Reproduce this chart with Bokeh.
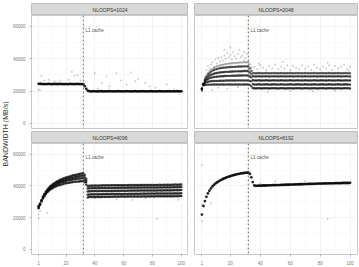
from math import pi
from bokeh.plotting import figure
from bokeh.layouts import row, column
from bokeh.models import Range1d, FixedTicker, Span, Label
from bokeh.embed import file_html
from bokeh.resources import INLINE


def kb(s):
    """values written in thousands of MB/s"""
    return [float(v) * 1000 for v in s.split()]


# ---------------- data ----------------
array_sizes = list(range(1, 101))      # KB, every size measured
sizes_pre = list(range(1, 35))         # up to / across the L1 boundary
sizes_post = list(range(35, 101))      # beyond L1
l1_cache_kb = 32
y_ticks = [0, 20000, 40000, 60000]
x_ticks = [1, 20, 40, 60, 80, 100]
panel_names = ["NLOOPS=1024", "NLOOPS=2048", "NLOOPS=4096", "NLOOPS=8192"]

bw_1024 = kb("""
24.5 24.4 24.4 24.3 24.3 24.3 24.3 24.4 24.3 24.3
24.3 24.4 24.3 24.3 24.3 24.4 24.3 24.3 24.3 24.3
24.3 24.3 24.4 24.3 24.3 24.3 24.3 24.4 24.3 24.3
24.3 24.2 23.0 21.4 20.3 19.9 19.8 19.8 19.9 19.8
19.8 19.8 19.8 19.9 19.8 19.8 19.8 19.8 19.8 19.9
19.8 19.8 19.8 19.8 19.8 19.9 19.8 19.8 19.8 19.8
19.8 19.9 19.8 19.8 19.8 19.8 19.8 19.9 19.8 19.8
19.8 19.8 19.9 19.8 19.8 19.8 19.8 19.8 19.9 19.8
19.8 19.8 19.8 19.8 19.9 19.8 19.8 19.8 19.8 19.8
19.9 19.8 19.8 19.8 19.8 19.8 19.9 19.8 19.8 19.8
""")
scatter_1024_x = [1, 2, 3, 5, 8, 12, 14, 16, 22, 24, 26, 28, 30, 40, 42, 45, 48, 50,
                  55, 58, 62, 65, 68, 70, 75, 78, 82, 90, 95]
scatter_1024_y = kb("""21.0 20.5 29.5 26.5 27.0 26.0 25.5 26.5 27.0 32.0 29.5 30.0 26.5
31.0 21.5 25.0 29.0 23.0 31.0 26.5 24.0 31.5 26.0 27.5 25.0 23.0 22.0 24.0 21.0""")

bw_2048_pre_a = kb("""
21.5 24.8 27.5 29.5 31.0 32.2 33.1 33.8 34.4 34.9
35.3 35.6 35.9 36.1 36.3 36.5 36.7 36.8 37.0 37.1
37.2 37.3 37.4 37.5 37.5 37.6 37.7 37.7 37.8 37.8
37.9 37.9 36.5 34.5""")
bw_2048_pre_b = kb("""
21.5 24.6 27.0 28.8 30.1 31.1 31.9 32.5 33.0 33.4
33.7 33.9 34.1 34.3 34.4 34.5 34.6 34.7 34.8 34.9
34.9 35.0 35.0 35.1 35.1 35.2 35.2 35.2 35.3 35.3
35.3 35.3 34.0 32.5""")
bw_2048_pre_c = kb("""
21.5 24.4 26.4 27.8 28.8 29.5 30.0 30.4 30.7 31.0
31.2 31.4 31.5 31.6 31.7 31.8 31.9 31.9 32.0 32.0
32.1 32.1 32.2 32.2 32.2 32.3 32.3 32.3 32.4 32.4
32.4 32.4 31.5 30.5""")
bw_2048_pre_d = kb("""
21.5 24.2 25.8 26.8 27.4 27.9 28.2 28.5 28.7 28.8
28.9 29.0 29.1 29.2 29.2 29.3 29.3 29.4 29.4 29.4
29.5 29.5 29.5 29.5 29.6 29.6 29.6 29.6 29.7 29.7
29.7 29.7 29.0 28.5""")
bw_2048_pre_e = kb("""
21.5 24.0 25.0 25.5 25.8 26.0 26.1 26.2 26.2 26.3
26.3 26.3 26.4 26.4 26.4 26.4 26.5 26.5 26.5 26.5
26.5 26.5 26.5 26.6 26.6 26.6 26.6 26.6 26.6 26.6
26.6 26.6 26.3 26.0""")
bw_2048_pre_f = kb("""
20.4 23.5 23.8 23.9 24.0 24.0 24.0 24.0 24.1 24.1
24.1 24.1 24.0 24.1 24.1 24.1 24.0 24.1 24.1 24.1
24.1 24.0 24.1 24.1 24.1 24.1 24.0 24.1 24.1 24.1
24.1 24.1 23.8 23.0""")
bw_2048_post_a = kb("""
31.3 31.1 31.0 31.1 31.2 31.1 31.0 31.1 31.1 31.2
31.1 31.0 31.1 31.1 31.2 31.1 31.1 31.0 31.1 31.2
31.1 31.1 31.0 31.1 31.1 31.2 31.1 31.0 31.1 31.1
31.2 31.1 31.1 31.0 31.1 31.2 31.1 31.1 31.0 31.1
31.1 31.2 31.1 31.0 31.1 31.1 31.2 31.1 31.1 31.0
31.1 31.2 31.1 31.1 31.0 31.1 31.1 31.2 31.1 31.0
31.1 31.1 31.2 31.1 31.1 31.0""")
bw_2048_post_b = kb("""
29.3 29.1 29.0 29.1 29.2 29.1 29.0 29.1 29.1 29.2
29.1 29.0 29.1 29.1 29.2 29.1 29.1 29.0 29.1 29.2
29.1 29.1 29.0 29.1 29.1 29.2 29.1 29.0 29.1 29.1
29.2 29.1 29.1 29.0 29.1 29.2 29.1 29.1 29.0 29.1
29.1 29.2 29.1 29.0 29.1 29.1 29.2 29.1 29.1 29.0
29.1 29.2 29.1 29.1 29.0 29.1 29.1 29.2 29.1 29.0
29.1 29.1 29.2 29.1 29.1 29.0""")
bw_2048_post_c = kb("""
26.8 26.6 26.5 26.6 26.7 26.6 26.5 26.6 26.6 26.7
26.6 26.5 26.6 26.6 26.7 26.6 26.6 26.5 26.6 26.7
26.6 26.6 26.5 26.6 26.6 26.7 26.6 26.5 26.6 26.6
26.7 26.6 26.6 26.5 26.6 26.7 26.6 26.6 26.5 26.6
26.6 26.7 26.6 26.5 26.6 26.6 26.7 26.6 26.6 26.5
26.6 26.7 26.6 26.6 26.5 26.6 26.6 26.7 26.6 26.5
26.6 26.6 26.7 26.6 26.6 26.5""")
bw_2048_post_d = kb("""
24.3 24.1 24.0 24.1 24.2 24.1 24.0 24.1 24.1 24.2
24.1 24.0 24.1 24.1 24.2 24.1 24.1 24.0 24.1 24.2
24.1 24.1 24.0 24.1 24.1 24.2 24.1 24.0 24.1 24.1
24.2 24.1 24.1 24.0 24.1 24.2 24.1 24.1 24.0 24.1
24.1 24.2 24.1 24.0 24.1 24.1 24.2 24.1 24.1 24.0
24.1 24.2 24.1 24.1 24.0 24.1 24.1 24.2 24.1 24.0
24.1 24.1 24.2 24.1 24.1 24.0""")
bw_2048_post_e = kb("""
21.9 21.7 21.6 21.7 21.8 21.7 21.6 21.7 21.7 21.8
21.7 21.6 21.7 21.7 21.8 21.7 21.7 21.6 21.7 21.8
21.7 21.7 21.6 21.7 21.7 21.8 21.7 21.6 21.7 21.7
21.8 21.7 21.7 21.6 21.7 21.8 21.7 21.7 21.6 21.7
21.7 21.8 21.7 21.6 21.7 21.7 21.8 21.7 21.7 21.6
21.7 21.8 21.7 21.7 21.6 21.7 21.7 21.8 21.7 21.6
21.7 21.7 21.8 21.7 21.7 21.6""")
scatter_2048_x = [3, 4, 5, 6, 7, 8, 9, 10, 11, 12, 13, 14, 15, 16, 16, 17, 18, 19, 20,
                  20, 21, 22, 23, 24, 25, 26, 27, 28, 29, 29, 30, 31, 8, 12, 18, 25,
                  36, 38, 39, 40, 42, 44, 46, 48, 50, 52, 54, 55, 56, 58, 60, 62, 64,
                  66, 68, 70, 72, 74, 76, 78, 80, 82, 84, 85, 86, 88, 90, 92, 94, 96,
                  98, 99, 100, 45, 60, 75, 90]
scatter_2048_y = kb("""
28.5 33.0 35.5 34.0 36.5 38.0 35.0 39.5 37.0 40.5 38.5 41.0 39.0 42.0 45.5 40.0
43.5 41.0 42.5 47.0 39.5 44.0 41.5 40.0 43.0 45.5 41.0 42.0 44.0 39.0 40.5 43.0
20.5 22.0 21.5 22.5
35.0 33.5 37.0 36.0 34.5 33.0 35.5 34.0 36.5 33.5 35.0 38.0 34.0 36.0 33.0 35.5
34.5 33.5 36.0 34.0 35.0 33.0 36.5 34.5 33.5 35.0 34.0 37.5 36.0 33.0 35.5 34.0
35.0 36.5 33.5 32.5 35.0 19.5 20.0 19.8 20.2""")

bw_4096_pre_a = kb("""
27.5 29.0 31.2 33.3 35.0 36.5 37.8 38.9 39.8 40.6
41.3 41.9 42.5 43.0 43.5 43.9 44.3 44.7 45.0 45.3
45.6 45.9 46.2 46.4 46.7 46.9 47.1 47.3 47.5 47.7
47.9 48.1 47.0 44.5""")
bw_4096_pre_b = kb("""
27.0 28.7 30.9 32.9 34.6 36.0 37.2 38.2 39.1 39.8
40.5 41.1 41.6 42.1 42.5 42.9 43.3 43.6 43.9 44.2
44.5 44.7 45.0 45.2 45.4 45.6 45.8 46.0 46.2 46.3
46.5 46.6 45.5 43.5""")
bw_4096_pre_c = kb("""
26.5 28.4 30.6 32.5 34.1 35.5 36.6 37.6 38.4 39.1
39.7 40.2 40.7 41.2 41.6 42.0 42.3 42.6 42.9 43.2
43.4 43.6 43.8 44.0 44.2 44.3 44.5 44.6 44.7 44.8
44.9 45.0 44.0 42.5""")
bw_4096_pre_d = kb("""
26.0 28.0 30.2 32.1 33.6 34.9 36.0 36.9 37.6 38.3
38.8 39.3 39.7 40.1 40.4 40.7 41.0 41.3 41.5 41.7
41.9 42.1 42.2 42.4 42.5 42.6 42.7 42.8 42.9 43.0
43.0 43.1 42.3 41.0""")
bw_4096_post_a = kb("""
40.0 40.2 40.2 40.3 40.2 40.3 40.3 40.2 40.3 40.3
40.3 40.4 40.3 40.4 40.4 40.3 40.4 40.4 40.4 40.5
40.4 40.5 40.4 40.5 40.5 40.5 40.4 40.5 40.5 40.6
40.5 40.6 40.5 40.6 40.6 40.5 40.6 40.6 40.6 40.7
40.6 40.6 40.7 40.6 40.7 40.7 40.6 40.7 40.7 40.7
40.8 40.7 40.7 40.8 40.7 40.8 40.8 40.7 40.8 40.8
40.8 40.9 40.8 40.8 40.9 40.9""")
bw_4096_post_b = kb("""
38.4 38.6 38.6 38.7 38.6 38.7 38.7 38.6 38.7 38.7
38.7 38.8 38.7 38.8 38.8 38.7 38.8 38.8 38.8 38.9
38.8 38.9 38.8 38.9 38.9 38.9 38.8 38.9 38.9 39.0
38.9 39.0 38.9 39.0 39.0 38.9 39.0 39.0 39.0 39.1
39.0 39.0 39.1 39.0 39.1 39.1 39.0 39.1 39.1 39.1
39.2 39.1 39.1 39.2 39.1 39.2 39.2 39.1 39.2 39.2
39.2 39.3 39.2 39.2 39.3 39.3""")
bw_4096_post_c = kb("""
36.5 36.7 36.7 36.8 36.7 36.8 36.8 36.7 36.8 36.8
36.8 36.9 36.8 36.9 36.9 36.8 36.9 36.9 36.9 37.0
36.9 37.0 36.9 37.0 37.0 37.0 36.9 37.0 37.0 37.1
37.0 37.1 37.0 37.1 37.1 37.0 37.1 37.1 37.1 37.2
37.1 37.1 37.2 37.1 37.2 37.2 37.1 37.2 37.2 37.2
37.3 37.2 37.2 37.3 37.2 37.3 37.3 37.2 37.3 37.3
37.3 37.4 37.3 37.3 37.4 37.4""")
bw_4096_post_d = kb("""
34.5 34.7 34.7 34.8 34.7 34.8 34.8 34.7 34.8 34.8
34.8 34.9 34.8 34.9 34.9 34.8 34.9 34.9 34.9 35.0
34.9 35.0 34.9 35.0 35.0 35.0 34.9 35.0 35.0 35.1
35.0 35.1 35.0 35.1 35.1 35.0 35.1 35.1 35.1 35.2
35.1 35.1 35.2 35.1 35.2 35.2 35.1 35.2 35.2 35.2
35.3 35.2 35.2 35.3 35.2 35.3 35.3 35.2 35.3 35.3
35.3 35.4 35.3 35.3 35.4 35.4""")
bw_4096_post_e = kb("""
32.8 33.0 33.0 33.1 33.0 33.1 33.1 33.0 33.1 33.1
33.1 33.2 33.1 33.2 33.2 33.1 33.2 33.2 33.2 33.3
33.2 33.3 33.2 33.3 33.3 33.3 33.2 33.3 33.3 33.4
33.3 33.4 33.3 33.4 33.4 33.3 33.4 33.4 33.4 33.5
33.4 33.4 33.5 33.4 33.5 33.5 33.4 33.5 33.5 33.5
33.6 33.5 33.5 33.6 33.5 33.6 33.6 33.5 33.6 33.6
33.6 33.7 33.6 33.6 33.7 33.7""")
scatter_4096_x = [1, 1, 2, 7, 40, 55, 66, 75, 83, 98]
scatter_4096_y = kb("22.0 19.5 24.0 22.9 32.5 32.0 31.1 32.3 19.2 31.4")

bw_8192 = kb("""
22.0 27.4 30.5 33.2 35.3 37.0 38.5 39.7 40.7 41.5
42.2 42.8 43.4 43.9 44.4 44.8 45.2 45.6 45.9 46.2
46.5 46.8 47.0 47.3 47.5 47.7 47.9 48.0 48.2 48.3
48.4 48.5 47.6 45.5 42.5 40.3 40.1 40.1 40.2 40.2
40.2 40.3 40.3 40.3 40.4 40.4 40.4 40.5 40.5 40.5
40.6 40.6 40.6 40.7 40.7 40.7 40.8 40.8 40.8 40.9
40.9 40.9 41.0 41.0 41.0 41.1 41.1 41.1 41.2 41.2
41.2 41.3 41.3 41.3 41.4 41.4 41.4 41.5 41.5 41.5
41.5 41.6 41.6 41.6 41.6 41.7 41.7 41.7 41.7 41.8
41.8 41.8 41.8 41.8 41.9 41.9 41.9 41.9 41.9 42.0""")
scatter_8192_x = [1, 1, 1, 7, 40, 50, 70, 85]
scatter_8192_y = kb("53.2 17.8 28.0 29.0 41.5 42.8 43.0 19.2")

panels = {
    "NLOOPS=1024": dict(bands=[(array_sizes, bw_1024, 0.85, 2.8)],
                        scatter=(scatter_1024_x, scatter_1024_y)),
    "NLOOPS=2048": dict(bands=[(sizes_pre, bw_2048_pre_a, 0.3, 2.2), (sizes_pre, bw_2048_pre_b, 0.6, 2.4),
                               (sizes_pre, bw_2048_pre_c, 0.65, 2.4), (sizes_pre, bw_2048_pre_d, 0.65, 2.4),
                               (sizes_pre, bw_2048_pre_e, 0.65, 2.4), (sizes_pre, bw_2048_pre_f, 0.65, 2.4),
                               (sizes_post, bw_2048_post_a, 0.55, 2.4), (sizes_post, bw_2048_post_b, 0.65, 2.4),
                               (sizes_post, bw_2048_post_c, 0.7, 2.4), (sizes_post, bw_2048_post_d, 0.7, 2.4),
                               (sizes_post, bw_2048_post_e, 0.7, 2.4)],
                        scatter=(scatter_2048_x, scatter_2048_y)),
    "NLOOPS=4096": dict(bands=[(sizes_pre, bw_4096_pre_a, 0.7, 2.5), (sizes_pre, bw_4096_pre_b, 0.7, 2.5),
                               (sizes_pre, bw_4096_pre_c, 0.7, 2.5), (sizes_pre, bw_4096_pre_d, 0.7, 2.5),
                               (sizes_post, bw_4096_post_a, 0.7, 2.5), (sizes_post, bw_4096_post_b, 0.7, 2.5),
                               (sizes_post, bw_4096_post_c, 0.7, 2.5), (sizes_post, bw_4096_post_d, 0.7, 2.5),
                               (sizes_post, bw_4096_post_e, 0.7, 2.5)],
                        scatter=(scatter_4096_x, scatter_4096_y)),
    "NLOOPS=8192": dict(bands=[(array_sizes, bw_8192, 0.85, 2.8)],
                        scatter=(scatter_8192_x, scatter_8192_y)),
}

# ---------------- styling ----------------
FONT = "Liberation Sans"
X_RANGE = (-3.95, 104.95)
Y_RANGE = (-3200, 66800)
FRAME_H = 113
STRIP_H = 12


def make_facet(name, left, frame_w, right, top, bottom, show_x, show_y):
    width = left + frame_w + right
    strip = figure(width=width, height=top + STRIP_H, x_axis_type=None, y_axis_type=None,
                   toolbar_location=None, output_backend="svg",
                   x_range=Range1d(0, 1), y_range=Range1d(0, 1),
                   min_border_left=left, min_border_right=right,
                   min_border_top=top, min_border_bottom=0,
                   background_fill_color="#d9d9d9", border_fill_color="white",
                   outline_line_color="#bfbfbf", outline_line_width=1)
    strip.add_layout(Label(x=0.5, y=0.5, text=name, text_align="center",
                           text_baseline="middle", text_font=FONT,
                           text_font_size="5px", text_color="#333333"))

    p = figure(width=width, height=FRAME_H + bottom,
               x_range=Range1d(*X_RANGE), y_range=Range1d(*Y_RANGE),
               x_axis_location="below" if show_x else None,
               y_axis_location="left" if show_y else None,
               toolbar_location=None, output_backend="svg",
               min_border_left=left, min_border_right=right,
               min_border_top=0, min_border_bottom=bottom,
               background_fill_color="white", border_fill_color="white",
               outline_line_color="#c8c8c8", outline_line_width=1)

    xt = FixedTicker(ticks=x_ticks, minor_ticks=[10.5, 30, 50, 70, 90])
    yt = FixedTicker(ticks=y_ticks, minor_ticks=[10000, 30000, 50000])
    for g in p.xgrid:
        g.ticker = xt
    for g in p.ygrid:
        g.ticker = yt
    p.grid.grid_line_color = "#ebebeb"
    p.grid.grid_line_width = 0.6
    p.grid.minor_grid_line_color = "#f4f4f4"
    p.grid.minor_grid_line_width = 0.5
    for ax, t in ((p.xaxis, xt), (p.yaxis, yt)):
        for a in ax:
            a.ticker = t
            a.axis_line_color = None
            a.major_tick_line_color = "#9a9a9a"
            a.major_tick_line_width = 0.7
            a.major_tick_out = 2
            a.major_tick_in = 0
            a.minor_tick_line_color = None
            a.major_label_text_font = FONT
            a.major_label_text_font_size = "4.5px"
            a.major_label_text_color = "#7a7a7a"
            a.major_label_standoff = 2

    spec = panels[name]
    sx, sy = spec["scatter"]
    p.scatter(sx, sy, size=2.0, color="black", alpha=0.2, line_width=0)
    for xs, ys, a, s in spec["bands"]:
        p.scatter(xs, ys, size=s, color="black", alpha=a, line_width=0)

    p.add_layout(Span(location=l1_cache_kb, dimension="height", line_color="#444444",
                      line_width=0.8, line_dash="2 2"))
    p.add_layout(Label(x=l1_cache_kb + 1.5, y=57800, text="L1 cache", text_font=FONT,
                       text_font_size="4.5px", text_color="#555555",
                       text_baseline="middle"))
    return column(strip, p)


ylab = figure(width=9, height=267, x_axis_type=None, y_axis_type=None,
              toolbar_location=None, output_backend="svg",
              x_range=Range1d(0, 1), y_range=Range1d(0, 1), min_border=0,
              outline_line_color=None, background_fill_color="white",
              border_fill_color="white")
ylab.add_layout(Label(x=0.55, y=0.5, text="BANDWIDTH (MB/s)", angle=pi / 2,
                      text_align="center", text_baseline="middle", text_font=FONT,
                      text_font_size="7px", text_color="#333333"))

tl = make_facet(panel_names[0], 18, 161, 0, 3, 3, False, True)
tr = make_facet(panel_names[1], 6, 163, 2, 3, 3, False, False)
bl = make_facet(panel_names[2], 18, 161, 0, 0, 11, True, True)
br = make_facet(panel_names[3], 6, 163, 2, 0, 11, True, False)

layout = row(ylab, column(row(tl, tr), row(bl, br)))

open("out.html", "w").write(file_html(layout, INLINE))
